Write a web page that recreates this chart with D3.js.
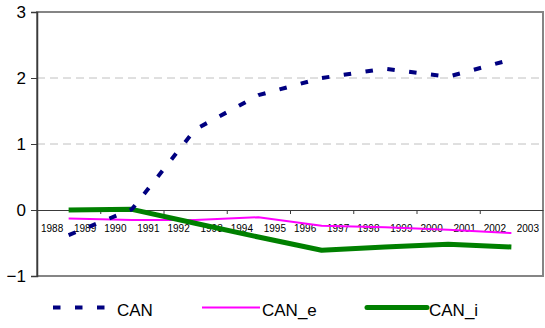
<!DOCTYPE html>
<html>
<head>
<meta charset="utf-8">
<script src="https://cdn.jsdelivr.net/npm/d3@7/dist/d3.min.js"></script>
<style>
  html, body { margin: 0; padding: 0; background: #fff; }
  svg { display: block; font-family: "Liberation Sans", Arial, sans-serif; }
</style>
</head>
<body>
<svg id="chart" width="545" height="328"></svg>
<script>
// Year labels along the category axis (two years per category)
const yearLabels = ["1988","1989","1990","1991","1992","1993","1994","1995",
                    "1996","1997","1998","1999","2000","2001","2002","2003"];
const categories = ["1988-89","1990-91","1992-93","1994-95","1996-97","1998-99","2000-01","2002-03"];

// Series values per category
const seriesNames = ["CAN", "CAN_e", "CAN_i"];
const canValues  = [-0.38, 0.01, 1.22, 1.74, 2.00, 2.14, 2.02, 2.28];
const canEValues = [-0.13, -0.15, -0.15, -0.11, -0.24, -0.26, -0.30, -0.35];
const canIValues = [0.00, 0.01, -0.20, -0.41, -0.61, -0.56, -0.52, -0.56];

const yTicks = [-1, 0, 1, 2, 3];
const gridValues = [1, 2];

const svg = d3.select("#chart");
const plotLeft = 37, plotRight = 543, plotTop = 12, plotBottom = 276;

const x = d3.scaleLinear().domain([0, categories.length]).range([plotLeft, plotRight]);
const y = d3.scaleLinear().domain([-1, 3]).range([plotBottom, plotTop]);

// Dashed gridlines
svg.append("g")
  .selectAll("line")
  .data(gridValues)
  .join("line")
  .attr("x1", plotLeft).attr("x2", plotRight)
  .attr("y1", d => y(d)).attr("y2", d => y(d))
  .attr("stroke", "#c0c0c0")
  .attr("stroke-width", 1)
  .attr("stroke-dasharray", "8,5");

// Plot area border
svg.append("rect")
  .attr("x", plotLeft).attr("y", plotTop)
  .attr("width", plotRight - plotLeft).attr("height", plotBottom - plotTop)
  .attr("fill", "none")
  .attr("stroke", "#858585")
  .attr("stroke-width", 2);

// Y axis
const yAxis = svg.append("g")
  .attr("transform", `translate(${plotLeft},0)`)
  .call(d3.axisLeft(y).tickValues(yTicks).tickFormat(d3.format("d")).tickSize(6).tickPadding(5));
yAxis.select(".domain").attr("stroke", "#3a3a3a").attr("stroke-width", 1.5);
yAxis.selectAll(".tick line").attr("stroke", "#3a3a3a");
yAxis.selectAll(".tick text")
  .attr("font-size", 17)
  .attr("fill", "#000")
  .attr("font-family", "Liberation Sans, Arial, sans-serif");

// X axis at zero, tick marks between categories
const xAxis = svg.append("g")
  .attr("transform", `translate(0,${y(0)})`)
  .call(d3.axisBottom(x).tickValues(d3.range(1, categories.length)).tickFormat("").tickSizeInner(4).tickSizeOuter(0));
xAxis.select(".domain").attr("stroke", "#3a3a3a").attr("stroke-width", 1.2);
xAxis.selectAll(".tick line").attr("stroke", "#3a3a3a");

// Year labels: first year left-aligned, second right-aligned within each category
const labelG = svg.append("g")
  .attr("font-size", 10)
  .attr("fill", "#000");
categories.forEach((c, i) => {
  labelG.append("text")
    .attr("x", x(i) + 4)
    .attr("y", 231.5)
    .attr("text-anchor", "start")
    .text(yearLabels[2 * i]);
  labelG.append("text")
    .attr("x", x(i + 1) - 4)
    .attr("y", 231.5)
    .attr("text-anchor", "end")
    .text(yearLabels[2 * i + 1]);
});

// Series lines
const line = d3.line()
  .x((d, i) => x(i + 0.5))
  .y(d => y(d));

const styles = [
  { values: canValues,  color: "#000080", width: 4, dash: "7.5,14.5" },
  { values: canEValues, color: "#ff00ff", width: 2, dash: null },
  { values: canIValues, color: "#008000", width: 5, dash: null }
];

// Draw order: magenta underneath, green, then navy dashes on top
[1, 2, 0].forEach(k => {
  const s = styles[k];
  svg.append("path")
    .datum(s.values)
    .attr("d", line)
    .attr("fill", "none")
    .attr("stroke", s.color)
    .attr("stroke-width", s.width)
    .attr("stroke-linejoin", "round")
    .attr("stroke-dasharray", s.dash);
});

// Legend
const legendPos = [
  { x1: 53, x2: 106, tx: 117 },
  { x1: 202, x2: 260, tx: 262 },
  { x1: 367, x2: 427, tx: 429 }
];
const legend = svg.append("g");
seriesNames.forEach((name, k) => {
  const s = styles[k], p = legendPos[k];
  legend.append("line")
    .attr("x1", p.x1).attr("x2", p.x2)
    .attr("y1", 307.5).attr("y2", 307.5)
    .attr("stroke", s.color)
    .attr("stroke-width", s.width)
    .attr("stroke-linecap", k === 2 ? "round" : "butt")
    .attr("stroke-dasharray", s.dash);
  legend.append("text")
    .attr("x", p.tx)
    .attr("y", 316)
    .attr("font-size", 17)
    .attr("fill", "#000")
    .text(name);
});
</script>
</body>
</html>
